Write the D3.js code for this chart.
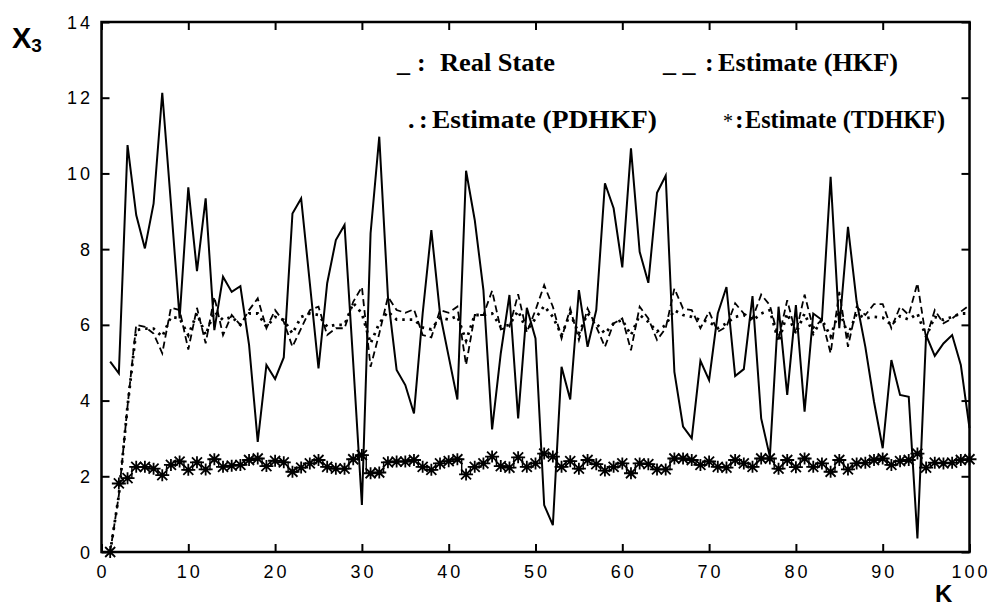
<!DOCTYPE html>
<html>
<head>
<meta charset="utf-8">
<script src="https://cdn.jsdelivr.net/npm/d3@7"></script>
<style>
    body { margin: 0; background: #fff; }
    svg { display: block; }
    .tick-label { font-family: Arial, 'Liberation Sans', sans-serif; font-size: 18px; letter-spacing: 3px; }
    .legend { font-family: 'Times New Roman', 'Liberation Serif', serif; font-weight: bold; font-size: 26px; }
</style>
</head>
<body>
<svg id="chart" width="991" height="606"></svg>
<script>
// X3 state estimates, k = 1..100

const realState = [
    5.03, 4.72, 10.75, 8.9, 8.02, 9.2, 12.13, 9.2, 6.17, 9.63,
    7.42, 9.34, 5.86, 7.27, 6.87, 7.02, 5.47, 2.91, 4.94, 4.57,
    5.14, 8.94, 9.34, 7.1, 4.85, 7.1, 8.24, 8.64, 5.0, 1.24,
    8.42, 10.97, 6.74, 4.81, 4.41, 3.66, 6.3, 8.5, 6.3, 5.16,
    4.03, 10.07, 8.77, 6.92, 3.24, 5.25, 6.79, 3.53, 6.45, 5.64,
    1.24, 0.71, 4.89, 4.03, 6.92, 5.42, 6.39, 9.74, 9.08, 7.52,
    10.66, 7.93, 7.11, 9.49, 9.94, 4.76, 3.31, 3.0, 5.05, 4.54,
    6.3, 7.0, 4.65, 4.83, 6.76, 3.53, 2.52, 6.48, 4.15, 6.52,
    3.71, 6.3, 6.13, 9.91, 5.91, 8.59, 6.61, 5.42, 3.97, 2.74,
    5.07, 4.15, 4.10, 0.36, 5.73, 5.18, 5.51, 5.73, 4.94, 3.27,
];

const estimateHKF = [
    0, 1.5, 3.85, 6.0, 5.95, 5.77, 5.25, 6.45, 6.39, 5.35,
    6.45, 5.51, 6.74, 5.73, 6.26, 6.0, 6.39, 6.7, 5.91, 6.39,
    6.08, 5.42, 5.91, 6.39, 6.48, 5.73, 5.91, 5.91, 6.61, 7.0,
    4.89, 5.77, 6.74, 6.39, 6.32, 6.41, 5.73, 5.67, 6.39, 6.32,
    6.48, 4.94, 6.26, 6.26, 6.9, 5.88, 5.95, 6.81, 5.8, 6.39,
    7.05, 6.48, 5.64, 6.43, 5.6, 6.43, 5.95, 5.42, 6.04, 6.17,
    5.33, 6.48, 6.17, 5.6, 5.91, 6.96, 6.43, 6.39, 5.91, 6.35,
    5.82, 5.95, 6.57, 6.3, 6.17, 6.8, 6.52, 5.64, 6.65, 5.77,
    6.8, 5.91, 6.14, 5.25, 6.87, 5.42, 6.48, 6.26, 6.55, 6.55,
    5.91, 6.48, 6.26, 7.1, 5.64, 6.39, 6.04, 6.17, 6.35, 6.52,
];

const estimatePDHKF = [
    0, 1.5, 3.85, 5.86, 5.9, 5.9, 5.69, 6.21, 6.17, 5.73,
    6.3, 5.73, 6.35, 6.13, 6.21, 6.0, 6.3, 6.3, 5.95, 6.21,
    6.13, 5.77, 6.21, 6.3, 6.26, 5.95, 6.0, 6.0, 6.58, 6.3,
    5.51, 6.04, 6.35, 6.14, 6.14, 6.14, 5.93, 5.88, 6.19, 6.14,
    6.23, 5.58, 6.26, 6.26, 6.3, 5.95, 6.0, 6.37, 5.85, 6.17,
    6.5, 6.21, 5.73, 6.3, 5.77, 6.3, 6.04, 5.77, 6.04, 6.13,
    5.73, 6.26, 6.08, 5.82, 6.0, 6.39, 6.26, 6.21, 6.13, 6.08,
    5.91, 6.04, 6.21, 6.26, 6.11, 6.3, 6.39, 5.55, 6.3, 5.77,
    6.3, 5.77, 6.14, 5.69, 6.39, 5.73, 6.3, 6.17, 6.21, 6.19,
    6.0, 6.23, 6.14, 6.3, 5.69, 6.21, 6.13, 6.21, 6.3, 6.3,
];

const estimateTDHKF = [
    0, 1.81, 1.95, 2.25, 2.25, 2.2, 2.03, 2.3, 2.39, 2.17,
    2.37, 2.18, 2.45, 2.25, 2.28, 2.3, 2.43, 2.47, 2.27, 2.41,
    2.37, 2.12, 2.23, 2.34, 2.43, 2.25, 2.2, 2.2, 2.45, 2.56,
    2.08, 2.1, 2.37, 2.39, 2.39, 2.43, 2.25, 2.17, 2.34, 2.4,
    2.45, 2.05, 2.25, 2.34, 2.52, 2.27, 2.23, 2.5, 2.25, 2.34,
    2.6, 2.52, 2.25, 2.4, 2.2, 2.43, 2.32, 2.15, 2.25, 2.34,
    2.08, 2.34, 2.32, 2.18, 2.18, 2.47, 2.47, 2.43, 2.3, 2.39,
    2.25, 2.23, 2.43, 2.34, 2.25, 2.47, 2.47, 2.2, 2.43, 2.24,
    2.47, 2.25, 2.34, 2.12, 2.43, 2.18, 2.34, 2.36, 2.43, 2.47,
    2.3, 2.4, 2.43, 2.6, 2.23, 2.36, 2.34, 2.36, 2.43, 2.45,
];

const xTicks = [0, 10, 20, 30, 40, 50, 60, 70, 80, 90, 100];
const yTicks = [0, 2, 4, 6, 8, 10, 12, 14];

const legendKeys = ['_', '_ _', '.', '*'];
const legendLabels = ['Real State', 'Estimate (HKF)', 'Estimate (PDHKF)', 'Estimate (TDHKF)'];

// where each legend entry sits: key start, colon, label start/width, baseline
const legendLayout = [
    { kx: 397, cx: 417, lx: 440, lw: 115, y: 71 },
    { kx: 663, cx: 705, lx: 718, lw: 180, y: 71 },
    { kx: 408, cx: 419, lx: 432, lw: 225, y: 128 },
    { kx: 723, cx: 735, lx: 745, lw: 200, y: 128 },
];

const svg = d3.select('#chart');

const x = d3.scaleLinear().domain([0, 100]).range([101.5, 969.5]);
const y = d3.scaleLinear().domain([0, 14]).range([552, 22]);

const toPoints = values => values.map((v, i) => ({ k: i + 1, v }));

const line = d3.line()
    .x(d => x(d.k))
    .y(d => y(d.v));

// frame ticks, all pointing inward
const tickLen = 8;
const frame = svg.append('g').attr('class', 'frame');

frame.append('g')
    .attr('transform', `translate(0,${y(0)})`)
    .call(d3.axisBottom(x).tickValues(xTicks).tickSize(-tickLen).tickFormat(''));
frame.append('g')
    .attr('transform', `translate(0,${y(14)})`)
    .call(d3.axisTop(x).tickValues(xTicks).tickSize(-tickLen).tickFormat(''));
frame.append('g')
    .attr('transform', `translate(${x(0)},0)`)
    .call(d3.axisLeft(y).tickValues(yTicks).tickSize(-tickLen).tickFormat(''));
frame.append('g')
    .attr('transform', `translate(${x(100)},0)`)
    .call(d3.axisRight(y).tickValues(yTicks).tickSize(-tickLen).tickFormat(''));

frame.selectAll('.domain').remove();
frame.selectAll('.tick line').attr('stroke', '#000').attr('stroke-width', 2);

frame.append('rect')
    .attr('x', x(0))
    .attr('y', y(14))
    .attr('width', x(100) - x(0))
    .attr('height', y(0) - y(14))
    .attr('fill', 'none')
    .attr('stroke', '#000')
    .attr('stroke-width', 2.5);

// tick labels
svg.append('g').selectAll('text')
    .data(xTicks)
    .enter().append('text')
    .attr('class', 'tick-label')
    .attr('x', d => x(d) + 1.5)
    .attr('y', 578)
    .attr('text-anchor', 'middle')
    .text(d => d);

svg.append('g').selectAll('text')
    .data(yTicks)
    .enter().append('text')
    .attr('class', 'tick-label')
    .attr('x', 93)
    .attr('y', d => y(d) + 6.5)
    .attr('text-anchor', 'end')
    .text(d => d);

// axis titles
const title = svg.append('text')
    .attr('x', 12)
    .attr('y', 48)
    .style('font-family', 'Arial, "Liberation Sans", sans-serif')
    .style('font-weight', 'bold')
    .style('font-size', '29px')
    .text('X');
title.append('tspan')
    .attr('dy', 4)
    .style('font-size', '19px')
    .text('3');

svg.append('text')
    .attr('x', 935)
    .attr('y', 602)
    .style('font-family', 'Arial, "Liberation Sans", sans-serif')
    .style('font-weight', 'bold')
    .style('font-size', '24px')
    .text('K');

// series
svg.append('path')
    .datum(toPoints(estimateHKF))
    .attr('d', line)
    .attr('fill', 'none')
    .attr('stroke', '#000')
    .attr('stroke-width', 1.8)
    .style('stroke-dasharray', '7, 4');

svg.append('path')
    .datum(toPoints(estimatePDHKF))
    .attr('d', line)
    .attr('fill', 'none')
    .attr('stroke', '#000')
    .attr('stroke-width', 2.8)
    .style('stroke-dasharray', '2.5, 5');

svg.append('path')
    .datum(toPoints(realState))
    .attr('d', line)
    .attr('fill', 'none')
    .attr('stroke', '#000')
    .attr('stroke-width', 2);

// TDHKF: thin stepped trace under asterisk markers
const tdPoints = toPoints(estimateTDHKF);

svg.append('path')
    .datum(tdPoints.slice(1))
    .attr('d', line.curve(d3.curveStep))
    .attr('fill', 'none')
    .attr('stroke', '#000')
    .attr('stroke-width', 1.4);

const star = 'M-7,0L7,0M0,-6L0,6M-5,-5L5,5M-5,5L5,-5';

svg.append('g').selectAll('path')
    .data(tdPoints)
    .enter().append('path')
    .attr('transform', d => `translate(${x(d.k)},${y(d.v)})`)
    .attr('d', star)
    .attr('fill', 'none')
    .attr('stroke', '#000')
    .attr('stroke-width', 1.8);

// legend text
const legend = svg.append('g');
legendLayout.forEach((p, i) => {
    const isStar = legendKeys[i] === '*';
    legend.append('text')
        .attr('class', 'legend')
        .attr('x', p.kx)
        .attr('y', p.y)
        .style('font-weight', isStar ? 'normal' : 'bold')
        .style('font-size', isStar ? '20px' : null)
        .text(legendKeys[i]);
    legend.append('text')
        .attr('class', 'legend')
        .attr('x', p.cx)
        .attr('y', p.y)
        .text(':');
    legend.append('text')
        .attr('class', 'legend')
        .attr('x', p.lx)
        .attr('y', p.y)
        .attr('textLength', p.lw)
        .attr('lengthAdjust', 'spacingAndGlyphs')
        .text(legendLabels[i]);
});
</script>
</body>
</html>
